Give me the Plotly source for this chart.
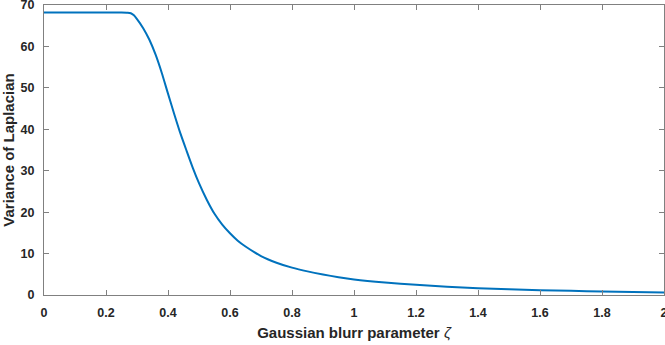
import plotly.graph_objects as go

zeta = [0, 0.1, 0.2, 0.25, 0.27, 0.28, 0.29, 0.30, 0.32, 0.34, 0.36, 0.38, 0.40, 0.42,
        0.44, 0.46, 0.48, 0.50, 0.525, 0.55, 0.575, 0.60, 0.625, 0.65, 0.70, 0.75, 0.80,
        0.85, 0.90, 0.95, 1.0, 1.1, 1.2, 1.3, 1.4, 1.5, 1.6, 1.7, 1.8, 1.9, 2.0]
variance = [68.2, 68.2, 68.2, 68.2, 68.15, 68.0, 67.5, 66.6, 64.4, 61.6, 58.0, 53.6, 48.6, 43.7,
            39.0, 34.8, 30.7, 27.0, 23.0, 19.6, 17.0, 14.9, 13.1, 11.7, 9.4, 7.8, 6.6,
            5.7, 4.95, 4.3, 3.75, 3.0, 2.45, 2.0, 1.65, 1.4, 1.15, 1.0, 0.85, 0.72, 0.62]

x_ticks = [0, 0.2, 0.4, 0.6, 0.8, 1, 1.2, 1.4, 1.6, 1.8, 2]
x_labels = ["0", "0.2", "0.4", "0.6", "0.8", "1", "1.2", "1.4", "1.6", "1.8", "2"]
y_ticks = [0, 10, 20, 30, 40, 50, 60, 70]

fig = go.Figure()
fig.add_trace(go.Scatter(x=zeta, y=variance, mode="lines",
                         line=dict(color="#0072BD", width=2, shape="spline", smoothing=0.6)))

tick_font = dict(family="Liberation Sans, Arial, sans-serif", size=12.5, color="#262626")
title_font = dict(family="Liberation Sans, Arial, sans-serif", size=15, color="#262626")
axis_common = dict(showgrid=False, zeroline=False, showline=True, linecolor="#808080",
                   linewidth=1, mirror="ticks", ticks="inside", ticklen=5,
                   tickcolor="#808080", tickfont=tick_font, automargin=False,
                   ticklabeloverflow="allow", ticklabelstandoff=6)

fig.update_layout(
    width=665, height=345,
    margin=dict(l=44, r=1, t=5, b=50),
    plot_bgcolor="white", paper_bgcolor="white",
    showlegend=False,
    font=tick_font,
    xaxis=dict(range=[0, 2], tickvals=x_ticks, ticktext=[f"<b>{t}</b>" for t in x_labels],
               title=dict(text="<b>Gaussian blurr parameter </b><i>ζ</i>", font=title_font, standoff=8),
               **axis_common),
    yaxis=dict(range=[0, 70], tickvals=y_ticks, ticktext=[f"<b>{t}</b>" for t in y_ticks],
               title=dict(text="<b>Variance of Laplacian</b>", font=title_font, standoff=6),
               **axis_common),
)

fig.write_html("out.html", config={"displayModeBar": False},
               post_script="document.body.style.margin='0';document.body.style.overflow='hidden';")
